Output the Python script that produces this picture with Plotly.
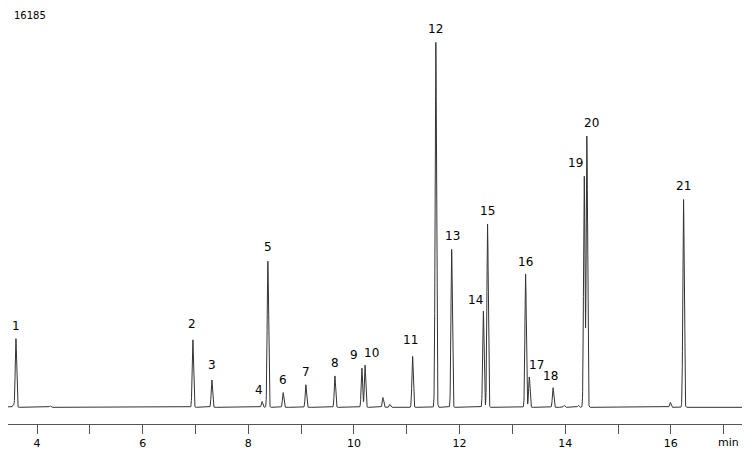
import numpy as np
import plotly.graph_objects as go

# peak retention times (min), heights (arbitrary counts) and labels
peak_times = [3.60, 6.95, 7.31, 8.26, 8.37, 8.66, 9.09, 9.64, 10.15, 10.21, 11.11,
              11.55, 11.85, 12.45, 12.53, 13.25, 13.32, 13.77, 14.36, 14.41, 16.24]
peak_heights = [70, 69, 28, 6, 149, 15, 23, 32, 40, 43, 52,
                372, 161, 98, 187, 136, 31, 20, 236, 277, 212]
peak_labels = [str(i) for i in range(1, 22)]
label_times = [3.60, 6.93, 7.31, 8.20, 8.37, 8.66, 9.09, 9.64, 10.00, 10.33, 11.07,
               11.55, 11.87, 12.31, 12.53, 13.25, 13.45, 13.73, 14.19, 14.49, 16.24]
label_y = [74, 76, 34, 8, 154, 19, 27, 36, 44, 46, 59,
           376, 165, 100, 191, 139, 34, 23, 240, 281, 216]

# minor unlabeled peaks
minor_times = [3.55, 4.25, 10.55, 10.68, 13.98, 14.25, 15.99]
minor_heights = [3, 1.5, 10, 3, 2, 2, 5]

t = np.linspace(3.3, 17.7, 6000)
sig = np.zeros_like(t)
for tc, h in zip(peak_times + minor_times, peak_heights + minor_heights):
    sig += h * np.exp(-0.5 * ((t - tc) / 0.013) ** 2)

fig = go.Figure()
fig.add_trace(go.Scatter(x=t, y=sig, mode="lines",
                         line=dict(color="#333333", width=1), hoverinfo="skip"))

for lx, ly, lab in zip(label_times, label_y, peak_labels):
    fig.add_annotation(x=lx, y=ly, text=lab, showarrow=False,
                       font=dict(size=12, color="black"), yanchor="bottom")

fig.add_annotation(x=0.005, y=1.0, xref="paper", yref="paper", text="16185",
                   showarrow=False, xanchor="left", yanchor="top",
                   font=dict(size=10, color="black"))
fig.add_annotation(x=17.1, y=-0.065, yref="paper", text="min", showarrow=False,
                   font=dict(size=11, color="black"))

fig.update_layout(
    width=750, height=451,
    margin=dict(l=0, r=0, t=0, b=35),
    plot_bgcolor="white", paper_bgcolor="white",
    showlegend=False,
    font=dict(family="DejaVu Sans", size=11, color="black"),
    xaxis=dict(range=[3.45, 17.65], tickvals=[4, 6, 8, 10, 12, 14, 16],
               ticks="outside", ticklen=9, tickcolor="#555", showgrid=False,
               zeroline=False, showline=True, linecolor="#555",
               minor=dict(tickvals=[5, 7, 9, 11, 13, 15, 17], ticks="outside",
                          ticklen=9, tickcolor="#555")),
    yaxis=dict(range=[-17, 407], visible=False),
)

fig.write_html("out.html")
